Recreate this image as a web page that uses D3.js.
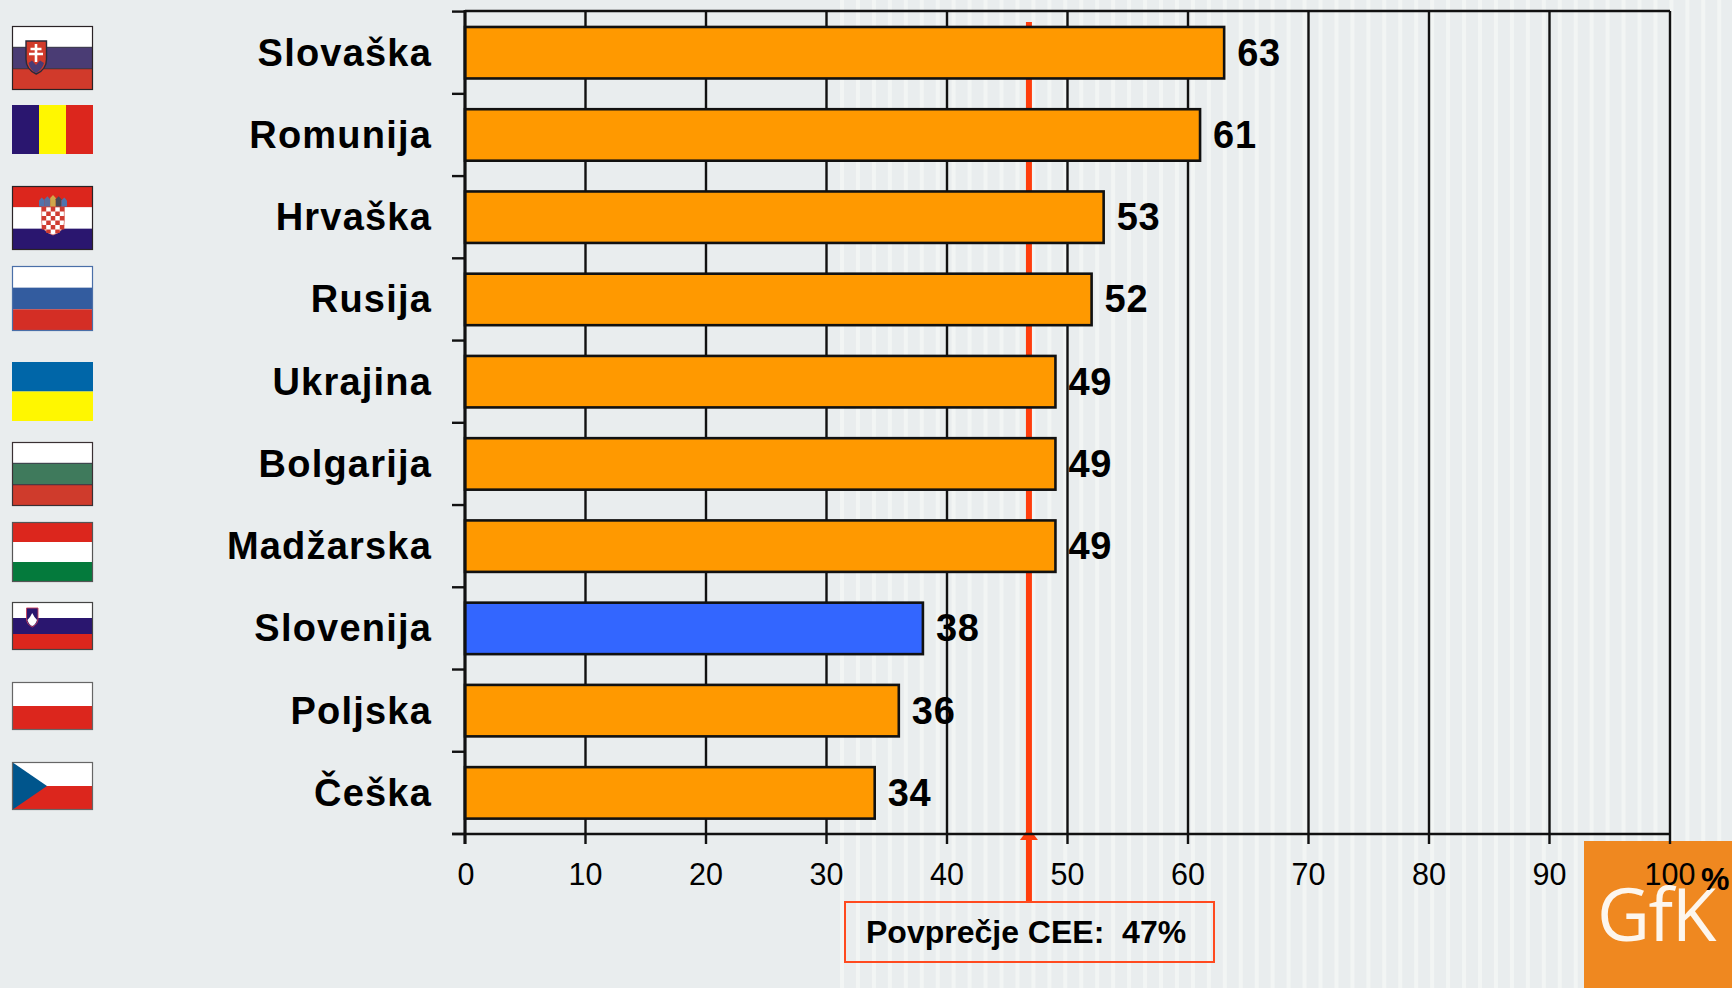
<!DOCTYPE html>
<html><head><meta charset="utf-8">
<script src="https://cdn.jsdelivr.net/npm/d3@7/dist/d3.min.js"></script>
<style>
html,body{margin:0;padding:0;background:#e9edee;overflow:hidden}
svg{display:block}
text{font-family:"Liberation Sans",Arial,sans-serif;fill:#000}
</style></head><body>
<svg id="c" width="1732" height="988"></svg>
<script>
// ---- data ----
const categories = ["Slovaška","Romunija","Hrvaška","Rusija","Ukrajina","Bolgarija","Madžarska","Slovenija","Poljska","Češka"];
const values = [63,61,53,52,49,49,49,38,36,34];
const highlighted = ["Slovenija"];
const xTicks = [0,10,20,30,40,50,60,70,80,90,100];
const averageValue = 46.8;
const averageLabel = "Povprečje CEE:  47%";
const unitLabel = "%";
const logoLabel = "GfK";

// ---- flags (decorative, in the same order as categories) ----
const flagStripes = [
 ["#ffffff","#4a3c74","#d13a2b"],
 ["#2a166f","#fff700","#dc261d"],
 ["#dc261d","#ffffff","#2a166f"],
 ["#ffffff","#335c9f","#d42e25"],
 ["#0066a8","#fff700"],
 ["#ffffff","#3f7a5c","#cf3b2c"],
 ["#dc261d","#ffffff","#047a3c"],
 ["#ffffff","#2a166f","#dc261d"],
 ["#ffffff","#dc261d"],
 ["#ffffff","#dc261d"]
];
const flagTop    = [26,105,186,266,362,442,522,602,682,762];
const flagBottom = [90,154,250,331,421,506,582,650,730,810];
const flagBorder = ["#2a2326",null,"#2a2326","#4a6fa8",null,"#3a3033","#555","#444","#666","#666"];

// ---- layout ----
const W=1732,H=988, X0=465, X1=1670, Y0=11, Y1=834;
const bg="#e9edee", stripe="#f2f5f4", ink="#111", red="#ff3d0d";

const svg=d3.select("#c");
const x=d3.scaleLinear().domain([0,100]).range([X0,X1]);
const y=d3.scaleBand().domain(categories).range([Y0+0.6,Y1]).paddingInner(0.374).paddingOuter(0.187);
const halfGap=y.step()*y.paddingInner()/2;

// background
svg.append("rect").attr("width",W).attr("height",H).attr("fill",bg);
svg.append("g").selectAll("rect").data(d3.range(840,W,15.95)).join("rect")
  .attr("x",d=>d).attr("y",0).attr("width",4).attr("height",H).attr("fill",stripe);

// logo
svg.append("rect").attr("x",1584).attr("y",841).attr("width",148).attr("height",147).attr("fill","#ef8820");
svg.append("text").text(logoLabel).attr("x",1597).attr("y",941)
  .style("font-family","'Open Sans',sans-serif").style("fill","#fdf6ee").attr("font-size",73).attr("font-weight",500).attr("letter-spacing",-1.5);

// grid + x axis
const xAxis=d3.axisBottom(x).tickValues(xTicks).tickSize(Y1-Y0+10).tickPadding(0).tickFormat("");
const gx=svg.append("g").attr("transform",`translate(0,${Y0})`).call(xAxis);
gx.select(".domain").attr("stroke",ink).attr("stroke-width",2.4).attr("d",`M${X0},0H${X1}`);
gx.selectAll(".tick line").attr("stroke",ink).attr("stroke-width",2.4);
gx.selectAll(".tick").attr("transform",d=>`translate(${x(d)},0)`);

// average line
svg.append("line").attr("x1",x(averageValue)).attr("x2",x(averageValue)).attr("y1",22).attr("y2",902)
  .attr("stroke",red).attr("stroke-width",6);
const ax=x(averageValue);
svg.append("path").attr("d",d3.line()([[ax,828],[ax+9,840],[ax-9,840]])+"Z").attr("fill",red);
svg.append("rect").attr("x",845).attr("y",902).attr("width",369).attr("height",60)
  .attr("fill","none").attr("stroke","#ff4a1f").attr("stroke-width",2);
svg.append("text").text(averageLabel).attr("x",866).attr("y",943)
  .attr("font-size",32).attr("font-weight","bold").style("white-space","pre");

// bars
svg.append("g").selectAll("rect").data(categories).join("rect")
  .attr("x",x(0)).attr("y",d=>y(d)).attr("height",y.bandwidth())
  .attr("width",(d,i)=>x(values[i])-x(0))
  .attr("fill",d=>highlighted.includes(d)?"#3366ff":"#ff9900")
  .attr("stroke",ink).attr("stroke-width",2.6);

// value labels
svg.append("g").selectAll("text").data(categories).join("text")
  .text((d,i)=>values[i]).attr("x",(d,i)=>x(values[i])+13).attr("y",d=>y(d)+y.bandwidth()/2+13)
  .attr("font-size",38).attr("font-weight","bold").attr("letter-spacing",0.8);

// bottom axis line and left axis
svg.append("line").attr("x1",X0-13).attr("x2",X1+1).attr("y1",Y1).attr("y2",Y1).attr("stroke",ink).attr("stroke-width",2.4);
const yAxis=d3.axisLeft(y).tickSize(0).tickPadding(33);
const gy=svg.append("g").attr("transform",`translate(${X0},0)`).call(yAxis);
gy.select(".domain").remove();
gy.selectAll("text").attr("font-size",38).attr("font-weight","bold").attr("letter-spacing",1.2)
  .attr("dy",null).attr("y",13).style("font-family",'"Liberation Sans",Arial,sans-serif').style("fill","#000");
svg.append("line").attr("x1",X0).attr("x2",X0).attr("y1",Y0-1).attr("y2",Y1+10).attr("stroke",ink).attr("stroke-width",3);
svg.append("g").selectAll("line").data([...categories.map(c=>y(c)-halfGap),Y1]).join("line")
  .attr("x1",X0-13).attr("x2",X0).attr("y1",d=>d).attr("y2",d=>d).attr("stroke",ink).attr("stroke-width",2.4);

// x tick labels
svg.append("g").selectAll("text").data(xTicks).join("text")
  .text(d=>d).attr("x",d=>x(d)+(d===0?1:0)).attr("y",885).attr("text-anchor","middle").attr("font-size",30.5);
svg.append("text").text(unitLabel).attr("x",1701).attr("y",890).attr("font-size",32).attr("font-weight","bold");

// flags
const FX=12, FW=81;
const flags=svg.append("g");
categories.forEach((c,i)=>{
  const g=flags.append("g"), t=flagTop[i], h=flagBottom[i]-t;
  const st=flagStripes[i], vert=i===1;
  st.forEach((col,k)=>{
    if(vert) g.append("rect").attr("x",FX+k*FW/st.length).attr("y",t).attr("width",FW/st.length).attr("height",h).attr("fill",col);
    else g.append("rect").attr("x",FX).attr("y",t+k*h/st.length).attr("width",FW).attr("height",h/st.length).attr("fill",col);
  });
  if(i===0||i===5) [1,2].forEach(k=>g.append("line").attr("x1",FX).attr("x2",FX+FW).attr("y1",t+k*h/3).attr("y2",t+k*h/3).attr("stroke","#2a2a3a").attr("stroke-opacity",.75).attr("stroke-width",1.2));
  if(i===9) g.append("path").attr("d",`M${FX},${t}L${FX+35},${t+h/2}L${FX},${t+h}Z`).attr("fill","#00558c");
  if(flagBorder[i]) g.append("rect").attr("x",FX+.5).attr("y",t+.5).attr("width",FW-1).attr("height",h-1).attr("fill","none").attr("stroke",flagBorder[i]).attr("stroke-width",1.2);
});
// Slovak arms
const sk=flags.append("g");
const shield=(l,r,t,b)=>{const m=(l+r)/2,s=t+(b-t)*.55;return `M${l},${t}H${r}V${s}Q${r},${b-(b-t)*.14} ${m},${b}Q${l},${b-(b-t)*.14} ${l},${s}Z`;};
sk.append("path").attr("d",shield(26,46.5,41,74)).attr("fill","#d13a2b").attr("stroke","#2a2a3a").attr("stroke-width",1.4);
sk.append("path").attr("d","M28.5,63L32,60.5L36,65L40,60.5L44,63Q42,70 36,73Q30,70 28.5,63Z").attr("fill","#4a3c74");
sk.append("path").attr("d","M36,44V62M30.5,49H41.5M29,54H43").attr("stroke","#fff").attr("stroke-width",2.6).attr("fill","none");
// Croatian arms
const hr=flags.append("g");
const hrL=41.7, hrT=207, cell=4.52;
hr.append("path").attr("d",shield(hrL,hrL+22.6,hrT,235)).attr("fill","#fff").attr("stroke","#d9695f").attr("stroke-width",.8);
d3.cross(d3.range(6),d3.range(5)).filter(([r,k])=>(r+k)%2===0).forEach(([r,k])=>{
  if(r===5&&(k===0||k===4))return;
  hr.append("rect").attr("x",hrL+k*cell).attr("y",hrT+r*4.5).attr("width",cell).attr("height",r===5?3.5:4.5).attr("fill","#cf3b30");
});
["#4f74ad","#5b6d9c","#d0a84a","#4a4a55","#4f74ad"].forEach((c,k)=>{
  const d=Math.abs(k-2)*1.2;
  hr.append("path").attr("d",`M${39+k*5.6},206.5V${198+d}L${41.8+k*5.6},${195+d}L${44.6+k*5.6},${198+d}V206.5Z`).attr("fill",c);
});
// Slovene arms
const si=flags.append("g");
si.append("path").attr("d",shield(26.5,38,608,627)).attr("fill","#2a166f").attr("stroke","#c9405a").attr("stroke-width",.9);
si.append("path").attr("d","M27.5,620L30,617L32.2,613L34.5,617L37,620Q35.5,625 32.2,626Q29,625 27.5,620Z").attr("fill","#fff");
</script>
</body></html>
